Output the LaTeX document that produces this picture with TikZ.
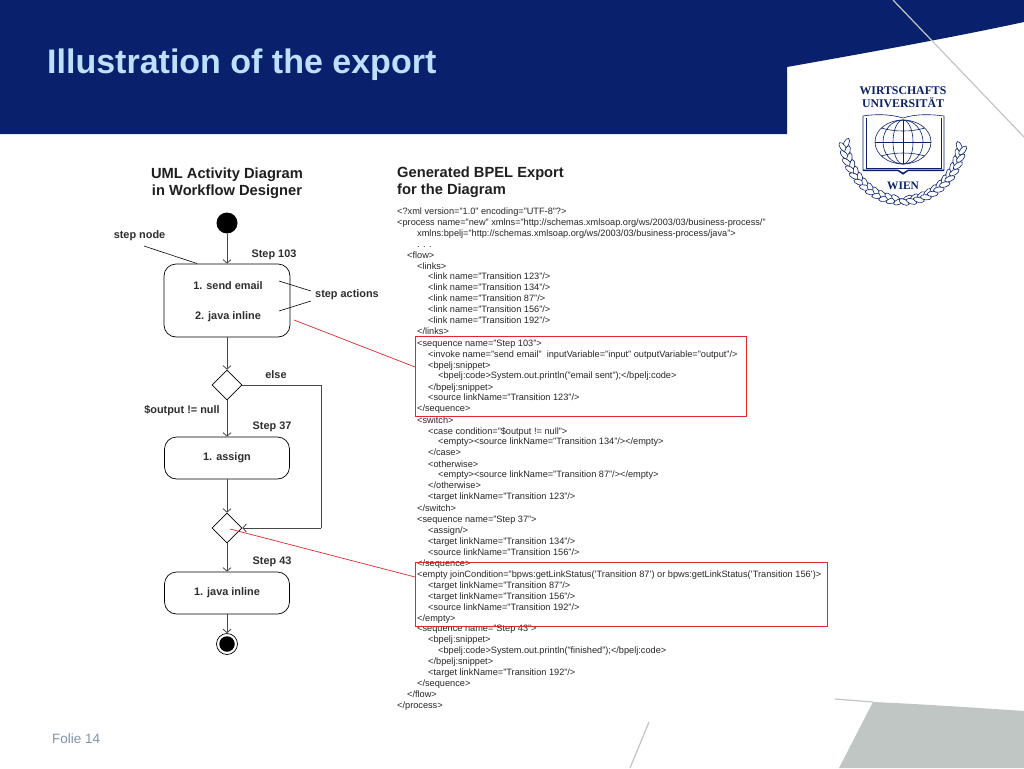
\documentclass[tikz,border=0pt]{standalone}
\usepackage{fontspec}
\setmainfont{Liberation Sans}
\newfontfamily\logofont{Liberation Serif}
\usepackage{xcolor}
\usetikzlibrary{arrows.meta,shapes.geometric}
\definecolor{wunavy}{RGB}{9,33,108}
\definecolor{wusky}{RGB}{190,224,255}
\definecolor{wugray}{RGB}{192,198,196}
\definecolor{wufoot}{RGB}{130,146,178}
\definecolor{flowgray}{RGB}{70,70,70}
\definecolor{linkred}{RGB}{222,40,50}
\tikzset{
  stepbox/.style={draw=black,line width=.7pt,rounded corners=12pt,inner sep=0pt},
  decision/.style={draw=black,line width=.7pt,diamond,aspect=1,inner sep=0pt,minimum width=30pt,minimum height=30pt},
  flow/.style={draw=flowgray,line width=.8pt,-{Straight Barb[length=3.5pt,width=8pt]}},
  flowplain/.style={draw=flowgray,line width=.8pt},
  remark/.style={draw=black,line width=.6pt},
  redlink/.style={draw=linkred,line width=.7pt},
  redbox/.style={draw=linkred,line width=.9pt,inner sep=0pt},
  lab/.style={font=\fontsize{10.9}{12}\selectfont\bfseries,text=black!82,inner sep=0pt,yshift=-1pt},
  head/.style={font=\fontsize{14.7}{17}\selectfont\bfseries,text=black!88,inner sep=0pt,yshift=-1.5pt},
  codeline/.style={anchor=west,font=\fontsize{9.2}{11}\selectfont,text=black!85,inner sep=0pt,text height=7pt,text depth=2pt,yshift=-.8pt},
  crest/.style={draw=wunavy,line width=.6pt},
  leaf/.style={draw=wunavy,fill=white,line width=.6pt}
}
\begin{document}
\begin{tikzpicture}[x=1pt,y=-1pt]
  \useasboundingbox (0,0) rectangle (1024,768);
  % slide background
  \fill[white] (0,0) rectangle (1024,768);
  \fill[wunavy] (0,0) -- (1024,0) -- (1024,22) .. controls (950,38) and (860,54) .. (787,67) -- (787,134) -- (0,134) -- cycle;
  \draw[wugray,line width=1.2pt] (893,0) -- (1024,137);
  \fill[wugray] (873,702) .. controls (920,704) and (980,708) .. (1024,711) -- (1024,768) -- (839,768) -- cycle;
  \draw[wugray,line width=1.2pt] (835,699) -- (873,702);
  \draw[wugray,line width=1.2pt] (649,722) -- (630,768);
  \node[anchor=west,inner sep=0pt,text=wusky,font=\fontsize{34}{38}\selectfont\bfseries] (title) at (47,64.5) {Illustration of the export};
  \node[anchor=west,inner sep=0pt,text=wufoot,font=\fontsize{13.5}{16}\selectfont] (folie) at (52,739) {Folie 14};

  % crest
  \node[text=wunavy,inner sep=0pt,font=\logofont\fontsize{11.8}{14}\selectfont\bfseries] (wirt) at (903,91) {WIRTSCHAFTS};
  \node[text=wunavy,inner sep=0pt,font=\logofont\fontsize{11.8}{14}\selectfont\bfseries] (uni) at (903,103) {UNIVERSITÄT};
  \draw[crest] (903,118) .. controls (890,114) and (875,114) .. (863,116) -- (863,170) -- (898,170) -- (903,173) -- (908,170) -- (944,170) -- (944,116) .. controls (930,114) and (915,114) .. (903,118);
  \draw[crest] (866,118) -- (866,168) -- (941,168) -- (941,118);
  \draw[wunavy,line width=1.2pt] (863,170.5) -- (898,170.5) -- (903,174) -- (908,170.5) -- (944,170.5);
  \draw[crest,fill=white] (903,142) ellipse [x radius=28,y radius=22];
  \draw[crest] (903,120) -- (903,164) (875,142) -- (931,142);
  \draw[crest] (903,142) ellipse [x radius=10,y radius=22];
  \draw[crest] (903,142) ellipse [x radius=20,y radius=22];
  \draw[crest] (881,128) .. controls (895,132) and (911,132) .. (925,128);
  \draw[crest] (881,156) .. controls (895,152) and (911,152) .. (925,156);
  \foreach \a in {186,193,...,266} {
    \draw[leaf] ({903+57*cos(\a)},{137-62*sin(\a)}) ellipse [x radius=5.5,y radius=2.6,rotate={\a-90-30}];
    \draw[leaf] ({903+61*cos(\a+3)},{137-65*sin(\a+3)}) ellipse [x radius=5.5,y radius=2.6,rotate={\a-90+30}];
  }
  \foreach \a in {274,281,...,354} {
    \draw[leaf] ({903+57*cos(\a)},{137-62*sin(\a)}) ellipse [x radius=5.5,y radius=2.6,rotate={\a-90+30}];
    \draw[leaf] ({903+61*cos(\a-3)},{137-65*sin(\a-3)}) ellipse [x radius=5.5,y radius=2.6,rotate={\a-90-30}];
  }
  \node[text=wunavy,inner sep=0pt,font=\logofont\fontsize{11.4}{14}\selectfont\bfseries] (wien) at (903,185.5) {WIEN};

  % activity diagram
  \node[head] (umlA) at (227,173) {UML Activity Diagram};
  \node[head] (umlB) at (227,190) {in Workflow Designer};
  \node[circle,fill=black,inner sep=0pt,minimum size=21pt] (start) at (227,223) {};
  \node[stepbox,minimum width=126pt,minimum height=73pt] (step103) at (227,300.5) {};
  \node[decision] (split) at (227,385) {};
  \node[stepbox,minimum width=125pt,minimum height=42pt] (step37) at (227,458) {};
  \node[decision] (join) at (227,528) {};
  \node[stepbox,minimum width=125pt,minimum height=42pt] (step43) at (227,593) {};
  \node[circle,draw=black,line width=.7pt,inner sep=0pt,minimum size=21pt] (stop) at (227,644) {};
  \node[circle,fill=black,inner sep=0pt,minimum size=15.5pt] (stopdot) at (227,644) {};

  \node[lab] (lblnode) at (139.5,235) {step node};
  \node[lab] (lbl103) at (274,254) {Step 103};
  \node[lab] (act1) at (228,285) {1. send email};
  \node[lab] (act2) at (228,316) {2. java inline};
  \node[lab] (lblact) at (347,294) {step actions};
  \node[lab] (lblelse) at (276,374) {else};
  \node[lab] (lblnull) at (182,410) {\$output != null};
  \node[lab] (lbl37) at (272,426) {Step 37};
  \node[lab] (act3) at (227,457) {1. assign};
  \node[lab] (lbl43) at (272,561) {Step 43};
  \node[lab] (act4) at (227,592) {1. java inline};

  \draw[flow] (start) -- (step103);
  \draw[flow] (step103) -- (split);
  \draw[flow] (split) -- (step37);
  \draw[flow] (step37) -- (join);
  \draw[flow] (join) -- (step43);
  \draw[flow] (step43) -- (stop);
  \coordinate (elsetop) at (321,385);
  \coordinate (elsebot) at (321,528);
  \draw[flowplain] (split.east) -- (elsetop) -- (elsebot);
  \draw[flow] (elsebot) -- (join.east);

  \coordinate (nodeA) at (144,246);
  \coordinate (nodeB) at (197,263.5);
  \draw[remark] (nodeA) -- (nodeB);
  \coordinate (actA) at (279,281);
  \coordinate (actB) at (311,291);
  \coordinate (actC) at (279,311);
  \coordinate (actD) at (311,301);
  \draw[remark] (actA) -- (actB);
  \draw[remark] (actC) -- (actD);

  % generated export
  \node[head,anchor=west] (bpelA) at (397,172) {Generated BPEL Export};
  \node[head,anchor=west] (bpelB) at (397,189) {for the Diagram};
  \node[codeline] (ln1) at (397,211) {<?xml version="1.0" encoding="UTF-8"?>};
  \node[codeline] (ln2) at (397,222) {<process name="new" xmlns="http://schemas.xmlsoap.org/ws/2003/03/business-process/"};
  \node[codeline] (ln3) at (417,233) {xmlns:bpelj="http://schemas.xmlsoap.org/ws/2003/03/business-process/java">};
  \node[codeline] (ln4) at (417,244) {. . .};
  \node[codeline] (ln5) at (407,255) {<flow>};
  \node[codeline] (ln6) at (417,266) {<links>};
  \node[codeline] (ln7) at (428,276.5) {<link name="Transition 123"/>};
  \node[codeline] (ln8) at (428,287.5) {<link name="Transition 134"/>};
  \node[codeline] (ln9) at (428,298.5) {<link name="Transition 87"/>};
  \node[codeline] (ln10) at (428,309.5) {<link name="Transition 156"/>};
  \node[codeline] (ln11) at (428,320.5) {<link name="Transition 192"/>};
  \node[codeline] (ln12) at (417,331.5) {</links>};
  \node[codeline] (ln13) at (417,343) {<sequence name="Step 103">};
  \node[codeline] (ln14) at (428,354) {<invoke name="send email"\ \ inputVariable="input" outputVariable="output"/>};
  \node[codeline] (ln15) at (428,365) {<bpelj:snippet>};
  \node[codeline] (ln16) at (438,375.5) {<bpelj:code>System.out.println("email sent");</bpelj:code>};
  \node[codeline] (ln17) at (428,387) {</bpelj:snippet>};
  \node[codeline] (ln18) at (428,397.5) {<source linkName="Transition 123"/>};
  \node[codeline] (ln19) at (417,408.5) {</sequence>};
  \node[codeline] (ln20) at (417,420) {<switch>};
  \node[codeline] (ln21) at (428,431) {<case condition="\$output != null">};
  \node[codeline] (ln22) at (438,441.5) {<empty><source linkName="Transition 134"/></empty>};
  \node[codeline] (ln23) at (428,452.5) {</case>};
  \node[codeline] (ln24) at (428,464) {<otherwise>};
  \node[codeline] (ln25) at (438,474.5) {<empty><source linkName="Transition 87"/></empty>};
  \node[codeline] (ln26) at (428,485.5) {</otherwise>};
  \node[codeline] (ln27) at (428,496.5) {<target linkName="Transition 123"/>};
  \node[codeline] (ln28) at (417,508) {</switch>};
  \node[codeline] (ln29) at (417,519) {<sequence name="Step 37">};
  \node[codeline] (ln30) at (428,530) {<assign/>};
  \node[codeline] (ln31) at (428,541) {<target linkName="Transition 134"/>};
  \node[codeline] (ln32) at (428,552) {<source linkName="Transition 156"/>};
  \node[codeline] (ln33) at (417,563) {</sequence>};
  \node[codeline] (ln34) at (417,574) {<empty joinCondition="bpws:getLinkStatus('Transition 87') or bpws:getLinkStatus('Transition 156')>};
  \node[codeline] (ln35) at (428,585) {<target linkName="Transition 87"/>};
  \node[codeline] (ln36) at (428,596) {<target linkName="Transition 156"/>};
  \node[codeline] (ln37) at (428,607) {<source linkName="Transition 192"/>};
  \node[codeline] (ln38) at (417,618) {</empty>};
  \node[codeline] (ln39) at (417,628.5) {<sequence name="Step 43">};
  \node[codeline] (ln40) at (428,639.5) {<bpelj:snippet>};
  \node[codeline] (ln41) at (438,650.5) {<bpelj:code>System.out.println("finished");</bpelj:code>};
  \node[codeline] (ln42) at (428,661.5) {</bpelj:snippet>};
  \node[codeline] (ln43) at (428,672.5) {<target linkName="Transition 192"/>};
  \node[codeline] (ln44) at (417,683.5) {</sequence>};
  \node[codeline] (ln45) at (407,694.5) {</flow>};
  \node[codeline] (ln46) at (397,705) {</process>};

  % red links
  \node[redbox,minimum width=331pt,minimum height=80pt] (seq103) at (580.5,376) {};
  \node[redbox,minimum width=412pt,minimum height=64pt] (emptybox) at (621,594) {};
  \coordinate (linkA) at (294,320);
  \coordinate (linkB) at (415,367);
  \coordinate (linkC) at (230,529);
  \coordinate (linkD) at (415,577);
  \draw[redlink] (linkA) -- (linkB);
  \draw[redlink] (linkC) -- (linkD);
\end{tikzpicture}
\end{document}
